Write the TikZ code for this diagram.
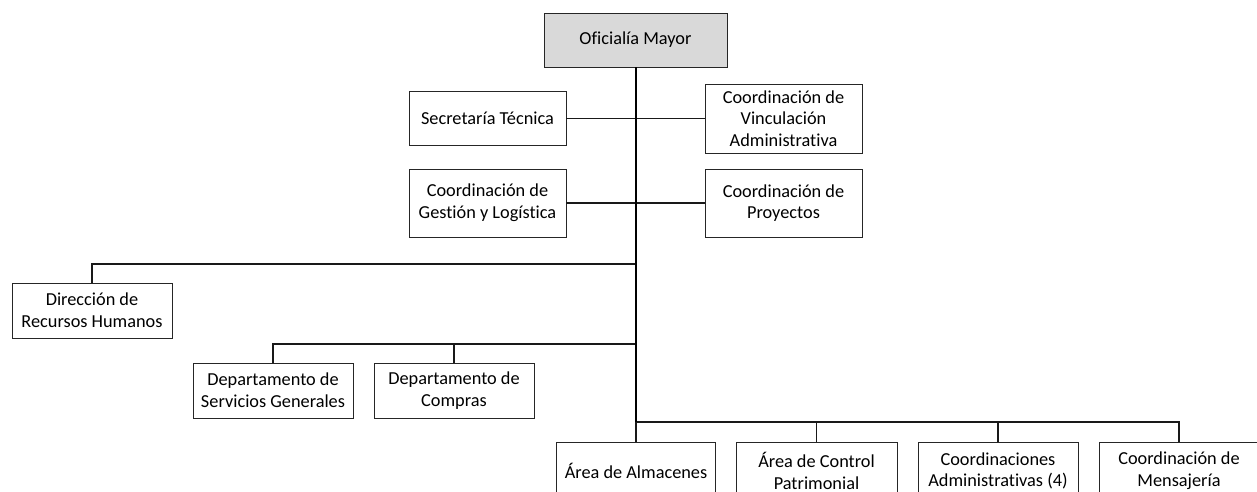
\documentclass[tikz,border=0pt]{standalone}
\usepackage{fontspec}
\setmainfont{Carlito}[Ligatures=NoCommon]
\begin{document}
\begin{tikzpicture}[x=1pt,y=-1pt,
  box/.style={draw=black!85, line width=0.9pt, fill=white, align=center,
    inner sep=0pt, font=\fontsize{18.3}{21.7}\selectfont},
  conn/.style={line width=1.4pt, black!90},
  trunk/.style={line width=2.4pt, black}]
\useasboundingbox (0,0) rectangle (1257,492);
\begin{scope}
\clip (0,0) rectangle (1257,492);
% nodes
\node[box, fill=black!15, minimum width=183pt, minimum height=54pt] (om) at (635.5,40) {Oficialía Mayor};
\node[box, minimum width=157pt, minimum height=54pt] (st) at (487.5,118.5) {Secretaría Técnica};
\node[box, minimum width=157pt, minimum height=69pt] (cva) at (783.5,118.5) {Coordinación de\\Vinculación\\Administrativa};
\node[box, minimum width=157pt, minimum height=68pt] (cgl) at (487.5,203) {Coordinación de\\Gestión y Logística};
\node[box, minimum width=157pt, minimum height=68pt] (cp) at (783.5,203) {Coordinación de\\Proyectos};
\node[box, minimum width=160pt, minimum height=55pt] (drh) at (92,310.5) {Dirección de\\Recursos Humanos};
\node[box, minimum width=160pt, minimum height=55pt] (dsg) at (273,390.5) {Departamento de\\Servicios Generales};
\node[box, minimum width=160pt, minimum height=55pt] (dc) at (454,390.5) {Departamento de\\Compras};
\node[box, minimum width=159pt, minimum height=58pt] (aa) at (636,471) {Área de Almacenes};
\node[box, minimum width=161pt, minimum height=58pt] (acp) at (816.5,471) {Área de Control\\Patrimonial};
\node[box, minimum width=160pt, minimum height=58pt] (ca) at (998,471) {Coordinaciones\\Administrativas (4)};
\node[box, minimum width=160pt, minimum height=58pt] (cm) at (1179,471) {Coordinación de\\Mensajería};
% junctions
\coordinate (j1) at (636,264);
\coordinate (j2) at (636,344);
\coordinate (j3) at (636,422);
\coordinate (j4) at (454,344);
\coordinate (j5) at (816.5,422);
\coordinate (j6) at (998,422);
% connectors
\draw[conn] (st.east) -- (cva.west);
\draw[conn] (cgl.east) -- (cp.west);
\draw[conn] (j1) -| (drh.north);
\draw[conn] (j2) -| (dsg.north);
\draw[conn] (j4) -- (dc.north);
\draw[conn] (j3) -| (cm.north);
\draw[conn] (j3) -- (aa.north);
\draw[conn] (j5) -- (acp.north);
\draw[conn] (j6) -- (ca.north);
\draw[trunk] (om.south -| j3) -- (j3);
\end{scope}
\end{tikzpicture}
\end{document}
